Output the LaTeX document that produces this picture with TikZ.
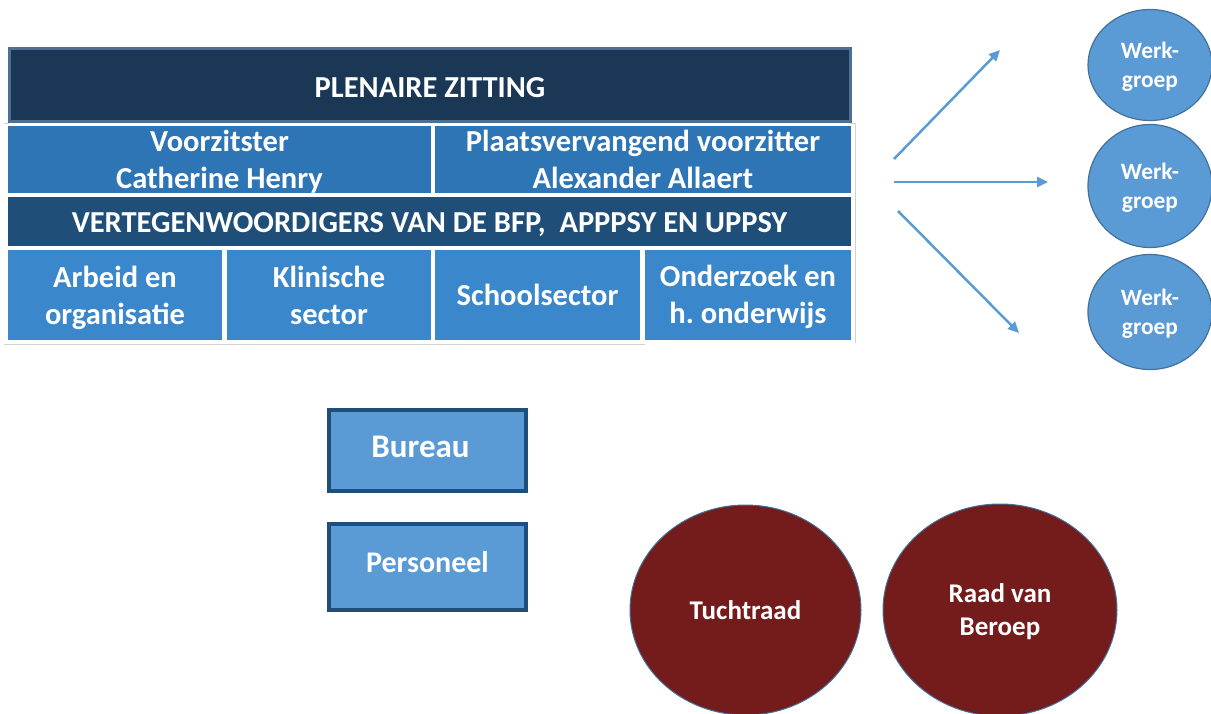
\documentclass[tikz,border=0pt]{standalone}
\usepackage{fontspec}
\setmainfont{Carlito}
\usetikzlibrary{shapes.geometric,arrows.meta}
\definecolor{plenary-blue}{HTML}{1A3756}
\definecolor{plenary-edge}{HTML}{4F6F92}
\definecolor{chair-blue}{HTML}{2E75B6}
\definecolor{reps-blue}{HTML}{1F4E79}
\definecolor{sector-blue}{HTML}{3A87CB}
\definecolor{light-blue}{HTML}{5B9BD5}
\definecolor{ring-blue}{HTML}{41719C}
\definecolor{raad-red}{HTML}{741B1B}
\tikzset{
    table-cell/.style = {rectangle, inner sep=0pt, outer sep=0pt, text=white, align=center, text depth=0pt, font=\bfseries\fontsize{30.5}{37}\selectfont},
    plenary-box/.style = {table-cell, fill=plenary-blue, draw=plenary-edge, line width=3pt, minimum width=841pt, minimum height=73pt, text height=25pt},
    chair-box/.style = {table-cell, fill=chair-blue, minimum height=67pt},
    reps-box/.style = {table-cell, fill=reps-blue, minimum width=843pt, minimum height=49pt, text height=22.5pt},
    sector-box/.style = {table-cell, fill=sector-blue, minimum height=90pt},
    werk-circle/.style = {ellipse, inner sep=0pt, fill=light-blue, draw=ring-blue, line width=1.2pt, minimum width=124pt, text=white, align=center, text depth=0pt, font=\bfseries\fontsize{23.4}{28.5}\selectfont},
    side-box/.style = {rectangle, inner sep=0pt, fill=light-blue, draw=reps-blue, line width=4pt, minimum width=197pt, text=white, font=\bfseries},
    raad-circle/.style = {ellipse, inner sep=0pt, fill=raad-red, draw=ring-blue, line width=1pt, text=white, align=center, text depth=0pt, font=\bfseries\fontsize{27}{33}\selectfont},
    link-arrow/.style = {draw=light-blue, line width=2.5pt, -{Triangle[length=11pt,width=10pt]}},
    table-line/.style = {draw=black!18, line width=1pt},
}
\begin{document}
\begin{tikzpicture}[x=1pt,y=-1pt]
\useasboundingbox (0,0) rectangle (1211,713);

% table
\draw[table-line] (4,123) -- (9,123);
\draw[table-line] (850,123) -- (855,123) -- (855,343);
\draw[table-line] (4,344) -- (645,344);
\node[plenary-box] (plenary) at (430,85) {PLENAIRE ZITTING};
\node[chair-box, minimum width=423pt] (chair) at (219.5,159.5) {Voorzitster\\Catherine Henry};
\node[chair-box, minimum width=416pt] (vice) at (643,159.5) {Plaatsvervangend voorzitter\\Alexander Allaert};
\node[reps-box] (reps) at (429.5,221.5) {VERTEGENWOORDIGERS VAN DE BFP,~ APPPSY EN UPPSY};
\node[sector-box, minimum width=214pt] (labour) at (115,295) {Arbeid en\\organisatie};
\node[sector-box, minimum width=204pt] (clinic) at (329,295) {Klinische\\sector};
\node[sector-box, minimum width=205pt] (school) at (537.5,295) {Schoolsector};
\node[sector-box, minimum width=206pt] (research) at (748,294.5) {Onderzoek en\\h.\ onderwijs};

% werkgroepen
\coordinate (up-from) at (894,159);
\coordinate (up-to) at (1000,50);
\coordinate (mid-from) at (894,182);
\coordinate (mid-to) at (1048,182);
\coordinate (down-from) at (898,211);
\coordinate (down-to) at (1019,333);
\draw[link-arrow] (up-from) -- (up-to);
\draw[link-arrow] (mid-from) -- (mid-to);
\draw[link-arrow] (down-from) -- (down-to);
\node[werk-circle, minimum height=111pt] (werk-a) at (1150,65) {Werk-\\groep};
\node[werk-circle, minimum height=123pt] (werk-b) at (1150,186) {Werk-\\groep};
\node[werk-circle, minimum height=115pt] (werk-c) at (1150,312) {Werk-\\groep};

% bureau en personeel
\node[side-box, minimum height=81pt, text depth=7pt, font=\bfseries\fontsize{33}{40}\selectfont] (bureau) at (427.5,450.5) {Bureau\hspace*{14pt}};
\node[side-box, minimum height=86pt, text depth=10pt, font=\bfseries\fontsize{30}{36}\selectfont] (staff) at (427.5,567) {Personeel};

% raden
\node[raad-circle, minimum width=231pt, minimum height=210pt] (tucht) at (745.5,610) {Tuchtraad};
\node[raad-circle, minimum width=234pt, minimum height=212pt] (beroep) at (1000,610) {Raad van\\Beroep};
\end{tikzpicture}
\end{document}
